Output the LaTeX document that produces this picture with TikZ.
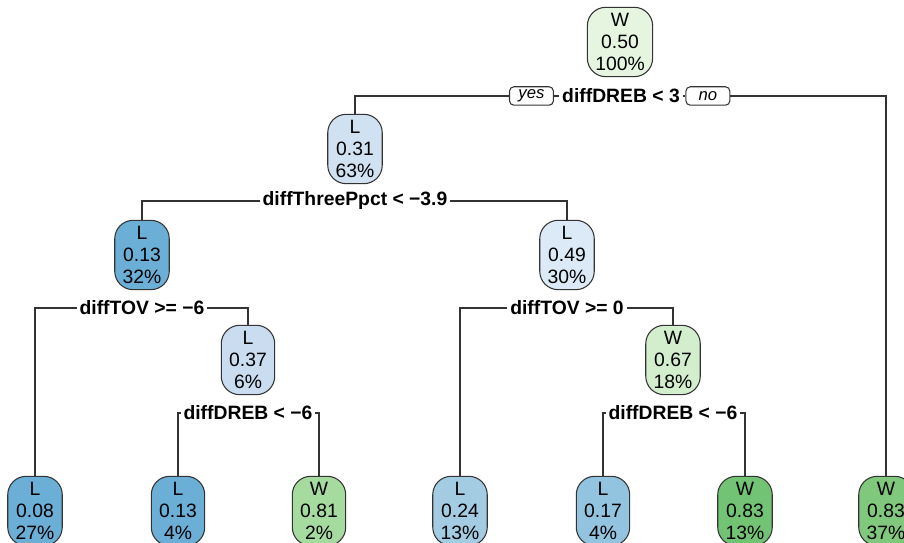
\documentclass[tikz,border=0pt]{standalone}
\usepackage{fontspec}
\setmainfont{Liberation Sans}
\usetikzlibrary{positioning}

%% fill colours for the boxes, blue for L and green for W
\definecolor{wpale}{HTML}{E5F5E0}
\definecolor{wlight}{HTML}{D3EECD}
\definecolor{wmid}{HTML}{A6DB9F}
\definecolor{wdark}{HTML}{72C374}
\definecolor{wdarkb}{HTML}{80C97C}
\definecolor{lpale}{HTML}{DCEAF7}
\definecolor{llight}{HTML}{D0E1F2}
\definecolor{llightb}{HTML}{CADCF0}
\definecolor{lmid}{HTML}{A3CCE3}
\definecolor{lmidb}{HTML}{92C3DF}
\definecolor{ldark}{HTML}{6BAED6}

\tikzset{
  tnode/.style={draw=black!80, line width=0.6pt, rounded corners=10.5pt, align=center,
    inner xsep=4.5pt, inner ysep=2pt, minimum height=39.5pt,
    font=\fontsize{11}{12.3}\selectfont},
  splitlab/.style={inner sep=1.5pt, font=\fontsize{11}{13}\selectfont\bfseries},
  ynbox/.style={draw=black!80, line width=0.6pt, rounded corners=2.5pt, inner xsep=4pt,
    minimum height=10.5pt, inner ysep=1pt, minimum width=25pt,
    font=\fontsize{9.5}{10}\selectfont\itshape},
  edge/.style={draw=black!80, line width=0.6pt}
}

\begin{document}
\begin{tikzpicture}[x=0.02cm, y=-0.02cm]
    %% page is the size of the reference, the bottom leaves are cut off by it
    \useasboundingbox (0,0) rectangle (904,543);
    \clip (0,0) rectangle (904,543);
    %% root and first split
    \node[tnode, fill=wpale] (n1) at (620,42) {W\\0.50\\100\%};
    \node[splitlab] (s1) at (621,96) {diffDREB < 3};
    \node[ynbox, left=3pt of s1] (yes) {yes};
    \node[ynbox, right=1.5pt of s1] (no) {no};
    %% inner nodes
    \node[tnode, fill=llight] (n2) at (355,149) {L\\0.31\\63\%};
    \node[splitlab] (s2) at (355,201) {diffThreePpct < −3.9};
    \node[tnode, fill=ldark] (n3) at (142,255) {L\\0.13\\32\%};
    \node[tnode, fill=lpale] (n4) at (567,255) {L\\0.49\\30\%};
    \node[splitlab] (s3) at (142,308) {diffTOV >= −6};
    \node[splitlab] (s5) at (567,308) {diffTOV >= 0};
    \node[tnode, fill=llightb] (n5) at (248,360) {L\\0.37\\6\%};
    \node[tnode, fill=wlight] (n6) at (673,360) {W\\0.67\\18\%};
    \node[splitlab] (s4) at (248,413) {diffDREB < −6};
    \node[splitlab] (s6) at (673,413) {diffDREB < −6};
    %% leaves
    \node[tnode, fill=ldark] (l1) at (35,511) {L\\0.08\\27\%};
    \node[tnode, fill=ldark] (l2) at (178,511) {L\\0.13\\4\%};
    \node[tnode, fill=wmid] (l3) at (319,511) {W\\0.81\\2\%};
    \node[tnode, fill=lmid] (l4) at (460,511) {L\\0.24\\13\%};
    \node[tnode, fill=lmidb] (l5) at (603,511) {L\\0.17\\4\%};
    \node[tnode, fill=wdark] (l6) at (745,511) {W\\0.83\\13\%};
    \node[tnode, fill=wdarkb] (l7) at (886,511) {W\\0.83\\37\%};
    %% branches
    \draw[edge] (yes.west) -| (n2);
    \draw[edge] (yes.east) -- (s1.west);
    \draw[edge] (s1.east) -- (no.west);
    \draw[edge] (no.east) -| (l7);
    \draw[edge] (s2.west) -| (n3);
    \draw[edge] (s2.east) -| (n4);
    \draw[edge] (s3.west) -| (l1);
    \draw[edge] (s3.east) -| (n5);
    \draw[edge] (s4.west) -| (l2);
    \draw[edge] (s4.east) -| (l3);
    \draw[edge] (s5.west) -| (l4);
    \draw[edge] (s5.east) -| (n6);
    \draw[edge] (s6.west) -| (l5);
    \draw[edge] (s6.east) -| (l6);
\end{tikzpicture}
\end{document}
